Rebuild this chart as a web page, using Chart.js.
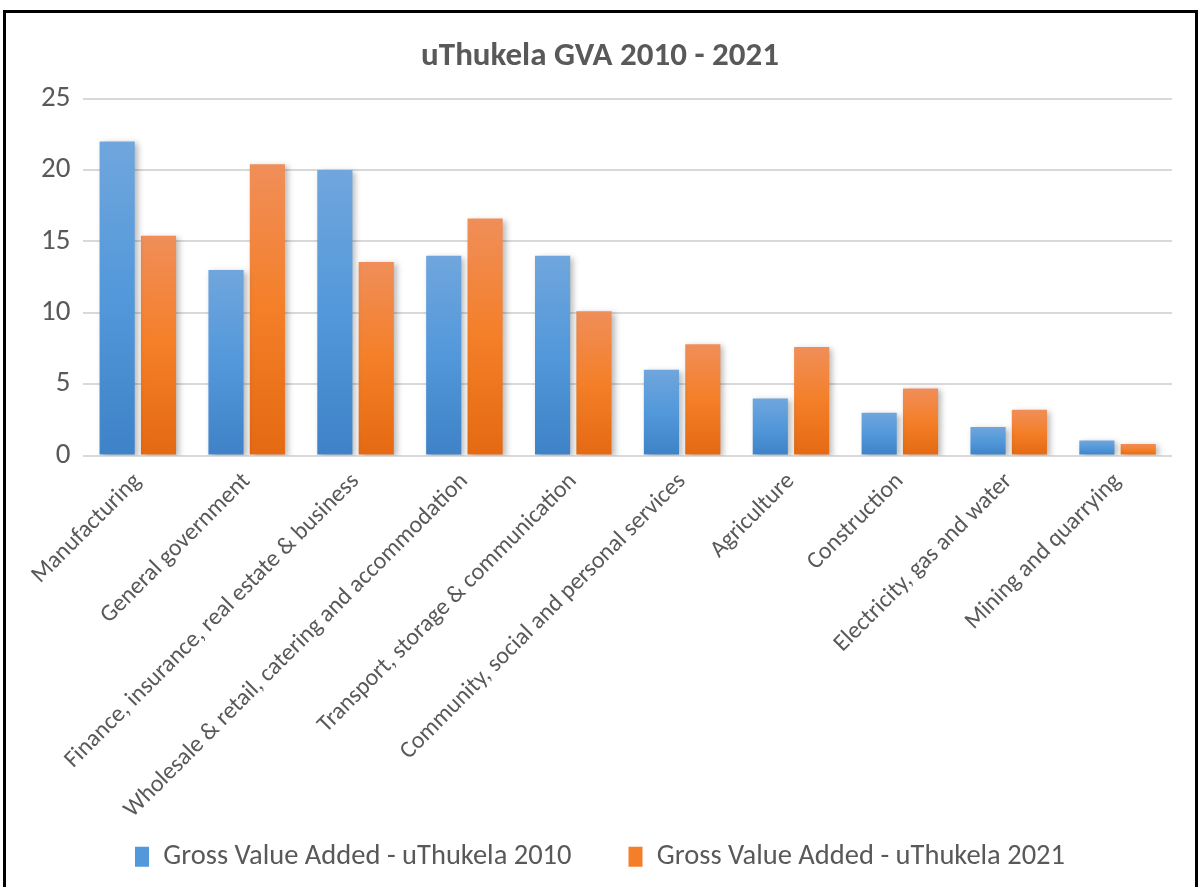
<!DOCTYPE html>
<html>
<head>
<meta charset="utf-8">
<script src="https://cdn.jsdelivr.net/npm/chart.js@4"></script>
<style>
  body { margin: 0; background: #fff; }
  #frame { position: absolute; left: 3px; top: 10px; width: 1189px; height: 880px; border: 3px solid #000; background: #fff; }
</style>
</head>
<body>
<div id="frame"><canvas id="gvaChart"></canvas></div>
<script>
var sectors = ["Manufacturing", "General government", "Finance, insurance, real estate & business",
  "Wholesale & retail, catering and accommodation", "Transport, storage & communication",
  "Community, social and personal services", "Agriculture", "Construction",
  "Electricity, gas and water", "Mining and quarrying"];
var gva2010 = [22.0, 13.0, 20.0, 14.0, 14.0, 6.0, 4.0, 3.0, 2.0, 1.05];
var gva2021 = [15.4, 20.4, 13.55, 16.6, 10.1, 7.8, 7.6, 4.7, 3.2, 0.8];
var yTicks = [0, 5, 10, 15, 20, 25];

var fontFam = "Carlito, 'Liberation Sans', sans-serif";
var textCol = '#595959';

// vertical gradient per bar, light on top, darker at the base
function barFill(top, mid, bottom) {
    return function(context) {
        var chart = context.chart;
        if (!chart.chartArea || context.type !== 'data') return mid;
        var y = chart.scales.y;
        var yTop = y.getPixelForValue(context.raw);
        var yBase = y.getPixelForValue(0);
        if (!isFinite(yTop) || yBase - yTop < 1) return mid;
        var g = chart.ctx.createLinearGradient(0, yTop, 0, yBase);
        g.addColorStop(0, top);
        g.addColorStop(0.5, mid);
        g.addColorStop(1, bottom);
        return g;
    };
}

var barShadow = {
    id: 'barShadow',
    beforeDatasetsDraw: function(chart) {
        var ctx = chart.ctx;
        ctx.save();
        ctx.shadowColor = 'rgba(0,0,0,0.28)';
        ctx.shadowBlur = 6;
        ctx.shadowOffsetX = 3;
        ctx.shadowOffsetY = 2;
    },
    afterDatasetsDraw: function(chart) {
        chart.ctx.restore();
    }
};

var ctx = document.getElementById("gvaChart").getContext('2d');
var gvaChart = new Chart(ctx, {
    type: 'bar',
    data: {
        labels: sectors,
        datasets: [{
            label: "Gross Value Added - uThukela 2010",
            data: gva2010,
            backgroundColor: barFill('#70a6dd', '#5298da', '#3f82c7'),
            borderWidth: 0
        },
        {
            label: "Gross Value Added - uThukela 2021",
            data: gva2021,
            backgroundColor: barFill('#f08e59', '#f47f28', '#e46912'),
            borderWidth: 0
        }]
    },
    options: {
        responsive: true,
        maintainAspectRatio: false,
        animation: false,
        categoryPercentage: 0.76,
        barPercentage: 0.85,
        layout: { padding: { left: 22, right: 23, top: 20, bottom: 12 } },
        plugins: {
            title: {
                display: true,
                text: "uThukela GVA 2010 - 2021",
                color: textCol,
                font: { family: fontFam, size: 33, weight: 'bold' },
                padding: { top: 4, bottom: 22 }
            },
            legend: {
                position: 'bottom',
                labels: {
                    color: textCol,
                    font: { family: fontFam, size: 28.5 },
                    boxWidth: 14,
                    boxHeight: 20,
                    padding: 57,
                    generateLabels: function(chart) {
                        var cols = ['#5298da', '#f47f28'];
                        return chart.data.datasets.map(function(ds, i) {
                            return { text: ds.label, fillStyle: cols[i], strokeStyle: cols[i], lineWidth: 0, datasetIndex: i, fontColor: textCol };
                        });
                    }
                }
            },
            tooltip: { enabled: false }
        },
        scales: {
            x: {
                grid: { display: false },
                border: { display: false },
                ticks: {
                    color: textCol,
                    font: { family: fontFam, size: 24 },
                    minRotation: 45,
                    maxRotation: 45,
                    padding: 4
                },
                afterFit: function(scale) {
                    scale.height = 330;
                    // let the rotated labels run into the margins instead of shrinking the plot
                    scale.paddingLeft = 0;
                    scale.paddingRight = 0;
                    scale._computeLabelArea = function() {};
                }
            },
            y: {
                min: 0,
                max: 25,
                afterBuildTicks: function(scale) {
                    scale.ticks = yTicks.map(function(v) { return { value: v }; });
                },
                grid: { color: '#d9d9d9', lineWidth: 2, drawTicks: false },
                border: { display: false },
                ticks: {
                    color: textCol,
                    font: { family: fontFam, size: 29 },
                    padding: 13
                }
            }
        }
    },
    plugins: [barShadow]
});
</script>
</body>
</html>
